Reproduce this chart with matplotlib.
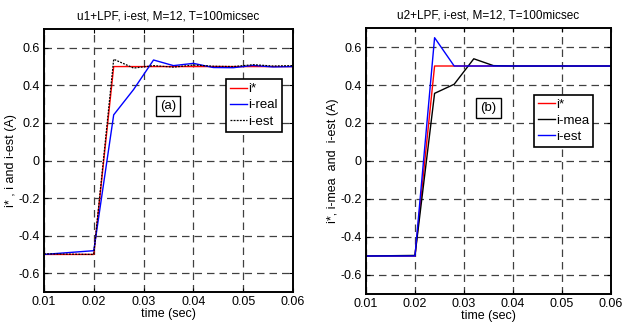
import matplotlib
matplotlib.use('Agg')
import matplotlib.pyplot as plt

plt.rcParams['font.family'] = ['Liberation Sans', 'DejaVu Sans']

# panel (a)
ta_ref = [0.01, 0.02, 0.024, 0.06]
ia_ref = [-0.5, -0.5, 0.5, 0.5]
ta_real = [0.01, 0.02, 0.024, 0.028, 0.032, 0.036, 0.04, 0.044, 0.048, 0.052, 0.056, 0.06]
ia_real = [-0.5, -0.48, 0.243, 0.378, 0.535, 0.505, 0.517, 0.495, 0.494, 0.506, 0.498, 0.5]
ta_est = [0.01, 0.02, 0.024, 0.028, 0.032, 0.036, 0.04, 0.044, 0.048, 0.052, 0.056, 0.06]
ia_est = [-0.497, -0.5, 0.539, 0.492, 0.505, 0.497, 0.508, 0.502, 0.5, 0.51, 0.503, 0.505]

# panel (b)
tb_ref = [0.01, 0.02, 0.024, 0.06]
ib_ref = [-0.5, -0.5, 0.5, 0.5]
tb_mea = [0.01, 0.02, 0.024, 0.028, 0.032, 0.036, 0.04, 0.06]
ib_mea = [-0.5, -0.497, 0.356, 0.404, 0.538, 0.502, 0.5, 0.5]
tb_est = [0.01, 0.02, 0.024, 0.028, 0.06]
ib_est = [-0.5, -0.5, 0.649, 0.5, 0.5]

xticks = [0.01, 0.02, 0.03, 0.04, 0.05, 0.06]
yticks = [-0.6, -0.4, -0.2, 0, 0.2, 0.4, 0.6]
ytick_labels = ['-0.6', '-0.4', '-0.2', '0', '0.2', '0.4', '0.6']

fig = plt.figure(figsize=(6.22, 3.31), dpi=100)
ax1 = fig.add_axes([0.0707, 0.1178, 0.4003, 0.7946])
ax2 = fig.add_axes([0.5884, 0.1118, 0.3939, 0.8036])

def style(ax, title, ylab):
    ax.set_xlim(0.01, 0.06)
    ax.set_ylim(-0.7, 0.7)
    ax.set_xticks(xticks)
    ax.set_xticklabels([str(t) for t in xticks])
    ax.set_yticks(yticks)
    ax.set_yticklabels(ytick_labels)
    ax.grid(True, color='0.25', lw=0.9, dashes=(6, 4))
    ax.tick_params(direction='in', top=True, right=True, labelsize=9, length=3, pad=3)
    for s in ax.spines.values():
        s.set_linewidth(1.4)
    ax.set_title(title, fontsize=8.5, pad=7)
    ax.set_xlabel('time (sec)', fontsize=9, labelpad=0)
    ax.set_ylabel(ylab, fontsize=9, labelpad=1)

ax1.plot(ta_ref, ia_ref, color='red', lw=1, label='i*')
ax1.plot(ta_real, ia_real, color='blue', lw=1, label='i-real')
ax1.plot(ta_est, ia_est, color='black', lw=0.9, ls=(0, (1.5, 1)), label='i-est')
style(ax1, 'u1+LPF, i-est, M=12, T=100micsec', 'i* , i and i-est (A)')
ax1.text(0.0349, 0.292, '(a)', fontsize=9.5, ha='center', va='center',
         bbox=dict(boxstyle='square,pad=0.3', fc='white', ec='black', lw=1))
leg1 = ax1.legend(loc='upper left', bbox_to_anchor=(0.73, 0.81), fontsize=9.5,
                  fancybox=False, edgecolor='black', framealpha=1,
                  handlelength=1.3, handletextpad=0.1, borderpad=0.3,
                  labelspacing=0.3, borderaxespad=0)
leg1.get_frame().set_linewidth(1.2)

ax2.plot(tb_ref, ib_ref, color='red', lw=1, label='i*')
ax2.plot(tb_mea, ib_mea, color='black', lw=1, label='i-mea')
ax2.plot(tb_est, ib_est, color='blue', lw=1, label='i-est')
style(ax2, 'u2+LPF, i-est, M=12, T=100micsec', 'i*, i-mea  and  i-est (A)')
ax2.text(0.035, 0.279, '(b)', fontsize=9.5, ha='center', va='center',
         bbox=dict(boxstyle='square,pad=0.3', fc='white', ec='black', lw=1))
leg2 = ax2.legend(loc='upper left', bbox_to_anchor=(0.685, 0.75), fontsize=9.5,
                  fancybox=False, edgecolor='black', framealpha=1,
                  handlelength=1.3, handletextpad=0.1, borderpad=0.3,
                  labelspacing=0.3, borderaxespad=0)
leg2.get_frame().set_linewidth(1.2)

fig.savefig('out.png', dpi=100)
